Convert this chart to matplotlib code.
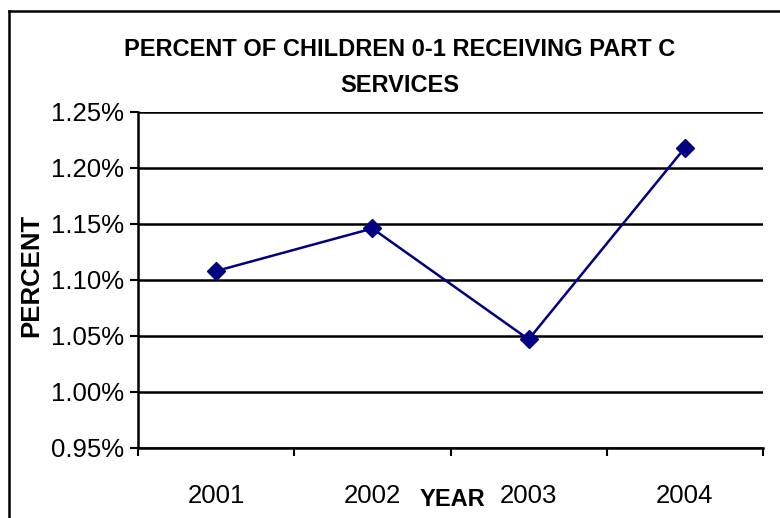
import matplotlib
matplotlib.use("Agg")
import matplotlib.pyplot as plt
from matplotlib.lines import Line2D
from matplotlib.ticker import FixedLocator, FuncFormatter

years = ["2001", "2002", "2003", "2004"]
values = [1.108, 1.146, 1.047, 1.218]
yticks = [0.95, 1.00, 1.05, 1.10, 1.15, 1.20, 1.25]

W, H = 780, 518
fig = plt.figure(figsize=(W / 100, H / 100), dpi=100)
reg = ['Liberation Sans', 'DejaVu Sans']

left, right, top, bottom = 138, 763, 112, 448
ax = fig.add_axes([left / W, 1 - bottom / H, (right - left) / W, (bottom - top) / H])

x = list(range(1, len(years) + 1))
ax.plot(x, values, color='#000080', lw=1.8, marker='D', markersize=9, zorder=5, clip_on=False)

ax.set_xlim(0.5, len(years) + 0.5)
ax.set_ylim(0.95, 1.25)
ax.set_yticks(yticks)
ax.yaxis.set_major_formatter(FuncFormatter(lambda v, p: f"{v:.2f}%"))
for v in yticks:
    ax.axhline(v, color='black', lw=1.8, zorder=1)

ax.xaxis.set_major_locator(FixedLocator([i + 0.5 for i in range(0, len(years) + 1)]))
ax.xaxis.set_major_formatter(FuncFormatter(lambda v, p: ""))
ax.xaxis.set_minor_locator(FixedLocator(x))
ax.set_xticklabels(years, minor=True)
ax.tick_params(axis='x', which='minor', length=0, pad=26)
ax.tick_params(axis='x', which='major', length=6, width=1.5, direction='out')
ax.tick_params(axis='y', length=6, width=1.5, direction='out', pad=4)
for lab in ax.get_xticklabels(minor=True):
    lab.set_fontfamily(reg); lab.set_fontsize(18.5)
for lab in ax.get_yticklabels():
    lab.set_fontfamily(reg); lab.set_fontsize(18.5)

for s in ['top', 'right']:
    ax.spines[s].set_visible(False)
for s in ['left', 'bottom']:
    ax.spines[s].set_linewidth(1.8)

fig.text(400 / W, 1 - 49 / H, "PERCENT OF CHILDREN 0-1 RECEIVING PART C", ha='center', va='center',
         fontsize=17, fontweight='bold', family=reg)
fig.text(400 / W, 1 - 86 / H, "SERVICES", ha='center', va='center',
         fontsize=17, fontweight='bold', family=reg)
fig.text(31 / W, 1 - 275 / H, "PERCENT", ha='center', va='center', rotation=90,
         fontsize=18.5, fontweight='bold', family=reg)
fig.text(452 / W, 1 - 499 / H, "YEAR", ha='center', va='center',
         fontsize=17, fontweight='bold', family=reg)

fig.add_artist(Line2D([9 / W, 9 / W], [0, 1 - 11 / H], transform=fig.transFigure, color='black', lw=1.8))
fig.add_artist(Line2D([9 / W, 1], [1 - 11 / H, 1 - 11 / H], transform=fig.transFigure, color='black', lw=1.8))

fig.savefig("out.png", dpi=100)
